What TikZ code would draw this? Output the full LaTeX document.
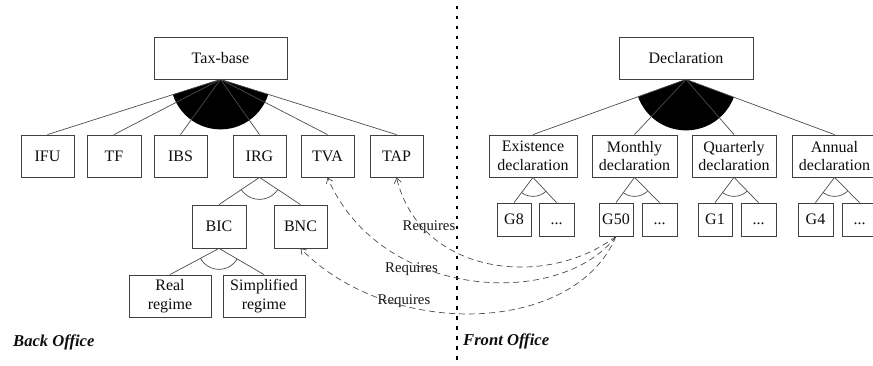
\documentclass[tikz,border=0pt]{standalone}
\usepackage{fontspec}
\setmainfont{Liberation Serif}
\usetikzlibrary{arrows.meta}
\begin{document}
\begin{tikzpicture}[x=1pt,y=-1pt,
  box/.style={draw=black!75, line width=0.8pt, fill=white, inner sep=0pt, align=center,
    font=\fontsize{16}{18.5}\selectfont, text=black!95},
  wh/.style 2 args={minimum width=#1pt, minimum height=#2pt},
  link/.style={draw=black!70, line width=0.7pt},
  req/.style={link, dash pattern=on 6pt off 4pt, -{Straight Barb[length=5pt,width=7pt]}},
  reqlabel/.style={font=\fontsize{14.8}{16}\selectfont, inner sep=0pt, text=black!90},
  office/.style={font=\fontsize{16.6}{18}\selectfont\bfseries\itshape, inner sep=0pt, anchor=west, text=black!95},
  sep/.style={line width=2pt, dash pattern=on 3.5pt off 6.5pt}
]
\useasboundingbox (0,0) rectangle (873,366);
\clip (0,0) rectangle (873,366);

% ---------------- Back office ----------------
\node[box, wh={133}{42}] (tax) at (220.5,58) {Tax-base};
\node[box, wh={53}{42}] (ifu) at (47.5,156) {IFU};
\node[box, wh={54}{42}] (tf)  at (114,156) {TF};
\node[box, wh={53}{42}] (ibs) at (180.5,156) {IBS};
\node[box, wh={53}{42}] (irg) at (259.5,156) {IRG};
\node[box, wh={53}{42}] (tva) at (327.5,156) {TVA};
\node[box, wh={53}{42}] (tap) at (396.5,156) {TAP};
\node[box, wh={54}{43}] (bic) at (219,226.5) {BIC};
\node[box, wh={53}{43}] (bnc) at (300.5,226.5) {BNC};
\node[box, wh={82}{42}] (real) at (170,296) {Real\\regime};
\node[box, wh={82}{42}] (simp) at (264,296) {Simplified\\regime};

\begin{scope}
  \clip (tax.south) -- (ifu.north) -- (tap.north) -- cycle;
  \fill[black] (tax.south) circle[radius=50];
\end{scope}
\foreach \c in {ifu,tf,ibs,irg,tva,tap} \draw[link] (tax.south) -- (\c.north);

\draw[link] (irg.south) -- (bic.north);
\draw[link] (irg.south) -- (bnc.north);
\begin{scope}
  \clip (irg.south) -- (bic.north) -- (bnc.north) -- cycle;
  \draw[link] (irg.south) circle[radius=22];
\end{scope}

\draw[link] (bic.south) -- (real.north);
\draw[link] (bic.south) -- (simp.north);
\begin{scope}
  \clip (bic.south) -- (real.north) -- (simp.north) -- cycle;
  \draw[link] (bic.south) circle[radius=21];
\end{scope}

\node[office] (back) at (13,342) {Back Office};

% ---------------- Separator ----------------
\coordinate (dtop) at (457,6);
\coordinate (dbot) at (457,366);
\draw[sep] (dtop) -- (dbot);

% ---------------- Front office ----------------
\node[box, wh={134}{42}] (decl) at (686,58) {Declaration};
\node[box, wh={88}{42}] (exist) at (533,156) {Existence\\declaration};
\node[box, wh={85}{42}] (month) at (634.5,156) {Monthly\\declaration};
\node[box, wh={84}{42}] (quart) at (734,156) {Quarterly\\declaration};
\node[box, wh={85}{42}] (annual) at (834.5,156) {Annual\\declaration};

\node[box, wh={34}{33}] (g8)  at (514,219.5) {G8};
\node[box, wh={35}{33}] (d1)  at (556.5,219.5) {\vphantom{G}...};
\node[box, wh={34}{33}] (g50) at (616,219.5) {G50};
\node[box, wh={35}{33}] (d2)  at (659.5,219.5) {\vphantom{G}...};
\node[box, wh={34}{33}] (g1)  at (715,219.5) {G1};
\node[box, wh={35}{33}] (d3)  at (758.5,219.5) {\vphantom{G}...};
\node[box, wh={35}{33}] (g4)  at (815.5,219.5) {G4};
\node[box, wh={35}{33}] (d4)  at (859.5,219.5) {\vphantom{G}...};

\begin{scope}
  \clip (decl.south) -- (exist.north) -- (annual.north) -- cycle;
  \fill[black] (decl.south) circle[radius=51];
\end{scope}
\foreach \c in {exist,month,quart,annual} \draw[link] (decl.south) -- (\c.north);

\foreach \p/\a/\b in {exist/g8/d1, month/g50/d2, quart/g1/d3, annual/g4/d4}{
  \draw[link] (\p.south) -- (\a.north);
  \draw[link] (\p.south) -- (\b.north);
  \begin{scope}
    \clip (\p.south) -- (\a.north) -- (\b.north) -- cycle;
    \draw[link] (\p.south) circle[radius=19];
  \end{scope}
}

\node[office] (front) at (463,341) {Front Office};

% ---------------- Requires links ----------------
\draw[req] (g50.south) .. controls (545,290) and (420,275) .. (tap.south);
\draw[req] (g50.south) .. controls (560,310) and (380,300) .. (tva.south);
\draw[req] (g50.south) .. controls (575,335) and (390,340) .. (bnc.south);
\node[reqlabel] (r1) at (429,227) {Requires};
\node[reqlabel] (r2) at (411.5,269) {Requires};
\node[reqlabel] (r3) at (404,301) {Requires};
\end{tikzpicture}
\end{document}
